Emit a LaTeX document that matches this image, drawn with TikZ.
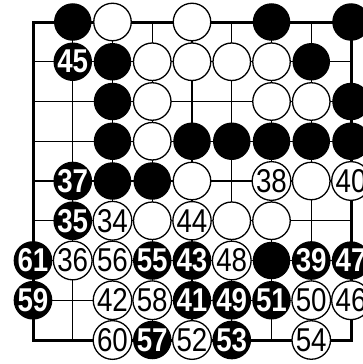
\documentclass[tikz,border=0pt]{standalone}
\usepackage{fontspec}
\newfontfamily\stonefont[FakeStretch=0.84]{Liberation Sans}
\tikzstyle{board line} = [line width=1.4pt, draw=black]
\tikzstyle{board edge} = [line width=3pt, draw=black]
\tikzstyle{stone} = [
    circle,
    inner sep=0pt,
    minimum size=37.5pt
]
\tikzstyle{black stone} = [
    stone,
    fill=black,
    text=white,
    font=\stonefont\bfseries\fontsize{33}{33}\selectfont
]
\tikzstyle{white stone} = [
    stone,
    draw=black,
    line width=1.3pt,
    fill=white,
    text=black,
    font=\stonefont\fontsize{33}{33}\selectfont
]
\begin{document}
\begin{tikzpicture}[x=39.75pt, y=-39.75pt]
    \useasboundingbox (-33pt,22pt) rectangle (330pt,-342pt);
    \fill[white] (-33pt,22pt) rectangle (330pt,-342pt);

    % Board lines
    \foreach \i in {1,...,7} {
        \draw[board line] (\i,0) -- (\i,8);
        \draw[board line] (0,\i) -- (8,\i);
    }
    \draw[board edge] (0,0) rectangle (8,8);

    % Black stones
    \foreach \c/\r/\n in {1/0/, 6/0/, 8/0/, 1/1/45, 2/1/, 7/1/, 2/2/, 8/2/,
        2/3/, 4/3/, 5/3/, 6/3/, 7/3/, 8/3/, 1/4/37, 2/4/, 3/4/, 1/5/35,
        0/6/61, 3/6/55, 4/6/43, 6/6/, 7/6/39, 8/6/47, 0/7/59, 4/7/41,
        5/7/49, 6/7/51, 3/8/57, 5/8/53}
        \node[black stone] (b\c-\r) at (\c,\r) {\n};

    % White stones
    \foreach \c/\r/\n in {2/0/, 4/0/, 3/1/, 4/1/, 5/1/, 6/1/, 3/2/, 6/2/,
        7/2/, 3/3/, 4/4/, 6/4/38, 7/4/, 8/4/40, 2/5/34, 3/5/, 4/5/44, 5/5/,
        6/5/, 1/6/36, 2/6/56, 5/6/48, 2/7/42, 3/7/58, 7/7/50, 8/7/46,
        2/8/60, 4/8/52, 7/8/54}
        \node[white stone] (w\c-\r) at (\c,\r) {\n};
\end{tikzpicture}
\end{document}
